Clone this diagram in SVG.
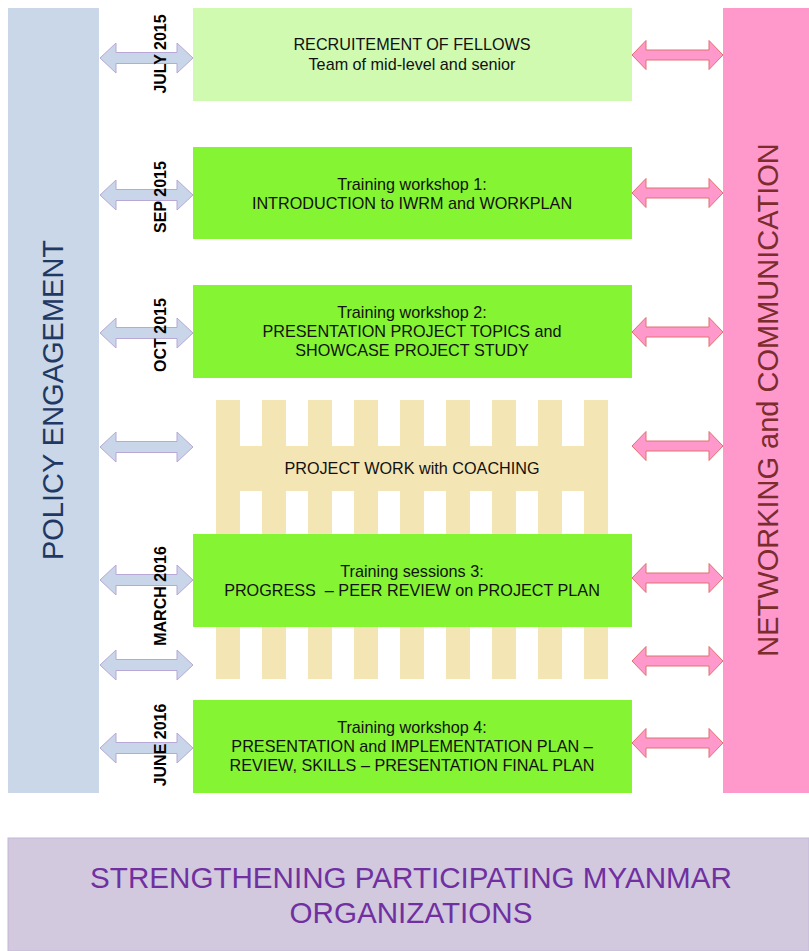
<svg xmlns="http://www.w3.org/2000/svg" xmlns:xlink="http://www.w3.org/1999/xlink" width="809" height="951" viewBox="0 0 809 951">
<style>
.t{font-family:"Liberation Sans",Arial,sans-serif;font-size:16.2px;fill:#111;text-anchor:middle}
.d{font-family:"Liberation Sans",Arial,sans-serif;font-size:16px;font-weight:bold;fill:#000;text-anchor:middle}
.big{font-family:"Liberation Sans",Arial,sans-serif;font-size:29px;text-anchor:middle}
.bot{font-family:"Liberation Sans",Arial,sans-serif;font-size:29.6px;text-anchor:middle;fill:#7030a0}
.la{fill:#c9d5e8;stroke:#b8a8d6;stroke-width:1}
.ra{fill:#ff99cc;stroke:#e07070;stroke-width:1}
.g{fill:#85f432}
.comb{fill:#f4e5b4}
</style>
<defs>
<path id="larr" d="M0,0 L16,-15 L16,-5.5 L77,-5.5 L77,-15 L93,0 L77,15 L77,5.5 L16,5.5 L16,15 Z"/>
<path id="rarr" d="M0,0 L14,-14.5 L14,-5 L77,-5 L77,-14.5 L91,0 L77,14.5 L77,5 L14,5 L14,14.5 Z"/>
</defs>
<rect width="809" height="951" fill="#fff"/>

<g id="policy">
<rect x="8" y="8" width="91" height="785" fill="#c9d7e8"/>
<text class="big" fill="#1f3864" transform="translate(63,400) rotate(-90)">POLICY ENGAGEMENT</text>
</g>

<g id="networking">
<rect x="723" y="8" width="86" height="785" fill="#ff99cc"/>
<text class="big" fill="#7b2c2c" transform="translate(778,400) rotate(-90)">NETWORKING and COMMUNICATION</text>
</g>

<g id="comb-upper">
<path class="comb" d="M216,400h24v46h22v-46h24v46h22v-46h24v46h22v-46h24v46h22v-46h24v46h22v-46h24v46h22v-46h24v46h22v-46h24v46h22v-46h24v134h-24v-43h-22v43h-24v-43h-22v43h-24v-43h-22v43h-24v-43h-22v43h-24v-43h-22v43h-24v-43h-22v43h-24v-43h-22v43h-24v-43h-22v43h-24z"/>
<text class="t" x="412" y="474">PROJECT WORK with COACHING</text>
</g>

<g id="comb-lower">
<path class="comb" d="M216,627h24v52h-24zM262,627h24v52h-24zM308,627h24v52h-24zM354,627h24v52h-24zM400,627h24v52h-24zM446,627h24v52h-24zM492,627h24v52h-24zM538,627h24v52h-24zM584,627h24v52h-24z"/>
</g>

<g id="recruitment">
<rect x="193" y="8" width="439" height="93" fill="#cffab0"/>
<text class="t" x="412" y="50">RECRUITEMENT OF FELLOWS</text>
<text class="t" x="412" y="70">Team of mid-level and senior</text>
</g>

<g id="workshop1">
<rect class="g" x="193" y="147" width="439" height="92"/>
<text class="t" x="412" y="190">Training workshop 1:</text>
<text class="t" x="412" y="209">INTRODUCTION to IWRM and WORKPLAN</text>
</g>

<g id="workshop2">
<rect class="g" x="193" y="285" width="439" height="93"/>
<text class="t" x="412" y="318">Training workshop 2:</text>
<text class="t" x="412" y="337">PRESENTATION PROJECT TOPICS and</text>
<text class="t" x="412" y="356">SHOWCASE PROJECT STUDY</text>
</g>

<g id="session3">
<rect class="g" x="193" y="534" width="439" height="93"/>
<text class="t" x="412" y="577">Training sessions 3:</text>
<text class="t" x="412" y="596" xml:space="preserve">PROGRESS  – PEER REVIEW on PROJECT PLAN</text>
</g>

<g id="workshop4">
<rect class="g" x="193" y="700" width="439" height="93"/>
<text class="t" x="412" y="733">Training workshop 4:</text>
<text class="t" x="412" y="752">PRESENTATION and IMPLEMENTATION PLAN –</text>
<text class="t" x="412" y="771">REVIEW, SKILLS – PRESENTATION FINAL PLAN</text>
</g>

<g id="strengthening">
<rect x="8" y="838" width="801" height="113" fill="#d2c9df" stroke="#c4b8d8" stroke-width="1"/>
<text class="bot" x="411" y="888">STRENGTHENING PARTICIPATING MYANMAR</text>
<text class="bot" x="411" y="923">ORGANIZATIONS</text>
</g>

<g id="connectors">
<use xlink:href="#larr" class="la" x="100" y="58"/>
<use xlink:href="#larr" class="la" x="100" y="195"/>
<use xlink:href="#larr" class="la" x="100" y="333"/>
<use xlink:href="#larr" class="la" x="100" y="447"/>
<use xlink:href="#larr" class="la" x="100" y="580"/>
<use xlink:href="#larr" class="la" x="100" y="665"/>
<use xlink:href="#larr" class="la" x="100" y="748"/>
<use xlink:href="#rarr" class="ra" x="632" y="55"/>
<use xlink:href="#rarr" class="ra" x="632" y="193"/>
<use xlink:href="#rarr" class="ra" x="632" y="332"/>
<use xlink:href="#rarr" class="ra" x="632" y="446"/>
<use xlink:href="#rarr" class="ra" x="632" y="578"/>
<use xlink:href="#rarr" class="ra" x="632" y="661"/>
<use xlink:href="#rarr" class="ra" x="632" y="743"/>
</g>

<g id="dates">
<text class="d" transform="translate(166,54) rotate(-90)">JULY 2015</text>
<text class="d" transform="translate(166,197) rotate(-90)">SEP 2015</text>
<text class="d" transform="translate(166,335) rotate(-90)">OCT 2015</text>
<text class="d" transform="translate(166,596) rotate(-90)">MARCH 2016</text>
<text class="d" transform="translate(166,745) rotate(-90)">JUNE 2016</text>
</g>
</svg>
